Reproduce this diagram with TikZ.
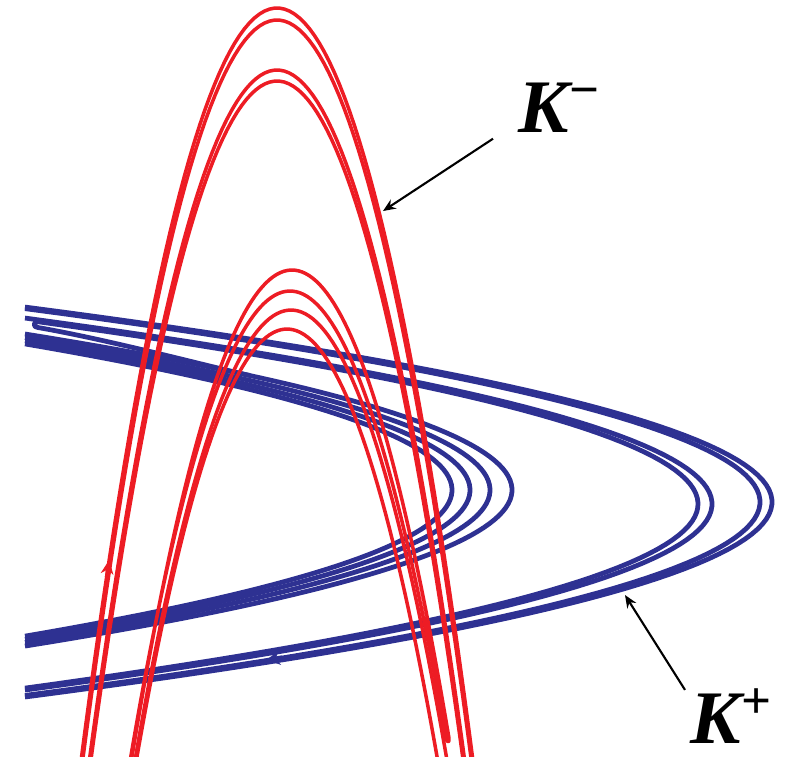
\documentclass[tikz,border=0pt]{standalone}
\usepackage{fontspec}
\setmainfont{Liberation Serif}
\usetikzlibrary{arrows.meta,calc}
\definecolor{mred}{RGB}{237,28,36}
\definecolor{mblue}{RGB}{46,49,146}
\tikzset{
  unst/.style={line width=1pt, mred, line join=round},
  stab/.style={line width=1.35pt, mblue, line join=round},
  flwr/.style={-{Stealth[length=4pt,width=3.6pt]}, line width=1pt, mred},
  flwb/.style={-{Stealth[length=4pt,width=4pt]}, line width=1.2pt, mblue},
  ptr/.style={-{Stealth[length=3.6pt,width=3pt]}, line width=0.6pt, black},
  lbl/.style={inner sep=0pt, font=\fontsize{21.5}{24}\selectfont\bfseries\itshape},
}

\begin{document}
\begin{tikzpicture}[x=0.01cm,y=-0.01cm]
  \useasboundingbox (0,0) rectangle (786,756);
  \begin{scope}
    \clip (0,0) rectangle (786,756);
    % --- K+ (blue) ---
    \foreach \vx/\vy/\kk in {772/502/1.965,760/502/1.965,712/504/1.986,512/490/2,490/490/2,470/490/2,452/490/2}{
      \pgfmathsetmacro{\w}{10*sqrt((\vx-25)/\kk)}
      \draw[stab] plot[domain=-\w:\w, samples=80] ({\vx-\kk*(\x/10)^2},{\vy+\x});
    }
    \pgfmathsetmacro{\w}{10*sqrt((698-25)/1.986)}
    \draw[stab] plot[domain=-\w:182.3, samples=80] ({698-1.986*(\x/10)^2},{504-\x})
      .. controls (33,321) and (33,327.8) .. (38,327.5)
      .. controls (110,340) and (210,366.8) .. (250,375.5);
    \draw[flwb] (282,657.5) -- (266,660);

    % --- K- (red) ---
    \foreach \ax/\ay/\kk in {277/8/1.96,277/20/1.96,277/70/1.96,277/81/1.96,291/310/1.85,287/329/1.9}{
      \pgfmathsetmacro{\w}{10*sqrt((770-\ay)/\kk)}
      \draw[unst] plot[domain=-\w:\w, samples=80] ({\ax+\x},{\ay+\kk*(\x/10)^2});
    }
    \draw[unst] plot[domain=-161.5:156, samples=90] ({290+\x},{291+1.837*(\x/10)^2})
      .. controls (446.9,743) and (449.8,743) .. (448.94,738)
      -- plot[domain=-156.94:162.2, samples=90] ({292-\x},{270+1.9*(\x/10)^2});
    \draw[flwr] (106.6,577) -- (109.2,560);
  \end{scope}

  % --- labels ---
  \node[lbl, anchor=base west] (km) at (518,132) {K\raisebox{7pt}{\fontsize{15}{15}\selectfont\upshape\char"2212}};
  \node[lbl, anchor=base west] (kp) at (690,743) {K\raisebox{7pt}{\fontsize{15}{15}\selectfont\upshape +}};
  \coordinate (kmtip) at (383,211);
  \coordinate (kptip) at (625,595);
  \draw[ptr] ($(km.south west)+(-25,6)$) -- (kmtip);
  \draw[ptr] ($(kp.north west)+(-5,2)$) -- (kptip);
\end{tikzpicture}
\end{document}
